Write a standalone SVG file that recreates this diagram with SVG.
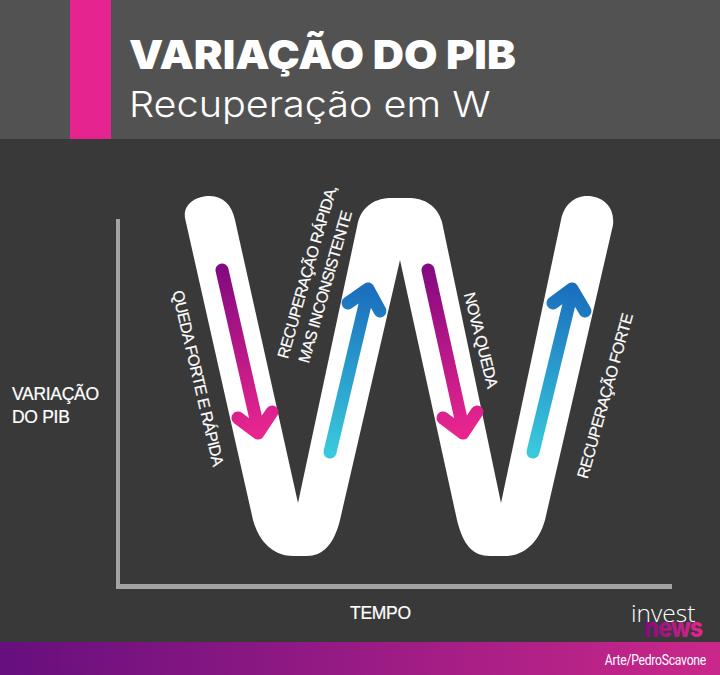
<svg xmlns="http://www.w3.org/2000/svg" width="720" height="675" viewBox="0 0 720 675">
<style>
.lab{font-family:"Liberation Sans",Arial,sans-serif;font-size:16px;fill:#fff;text-anchor:middle;dominant-baseline:central;letter-spacing:-.7px;stroke:#fff;stroke-width:.2px}
.axl{font-family:"Liberation Sans",Arial,sans-serif;font-size:17.5px;fill:#fff;letter-spacing:-.3px;stroke:#fff;stroke-width:.2px}
.arr{fill:none;stroke-width:13;stroke-linecap:round;stroke-linejoin:round}
</style>
<defs>
<linearGradient id="foot" x1="0" x2="1" y1="0" y2="0"><stop offset="0" stop-color="#660f7e"/><stop offset="1" stop-color="#cb278a"/></linearGradient>
<linearGradient id="p1" gradientUnits="userSpaceOnUse" x1="222" y1="270" x2="258" y2="433"><stop offset="0" stop-color="#840a80"/><stop offset="1" stop-color="#e8258f"/></linearGradient>
<linearGradient id="p2" gradientUnits="userSpaceOnUse" x1="428" y1="270" x2="463" y2="433"><stop offset="0" stop-color="#840a80"/><stop offset="1" stop-color="#e8258f"/></linearGradient>
<linearGradient id="b1" gradientUnits="userSpaceOnUse" x1="330" y1="452" x2="368" y2="289"><stop offset="0" stop-color="#38c9dc"/><stop offset="1" stop-color="#1b6fbe"/></linearGradient>
<linearGradient id="b2" gradientUnits="userSpaceOnUse" x1="533" y1="452" x2="572" y2="289"><stop offset="0" stop-color="#38c9dc"/><stop offset="1" stop-color="#1b6fbe"/></linearGradient>
<linearGradient id="nw" x1="0" x2="1" y1="0" y2="0"><stop offset="0" stop-color="#840a80"/><stop offset="1" stop-color="#e8258f"/></linearGradient>
</defs>
<rect width="720" height="675" fill="#393939"/>
<g id="header">
<rect width="720" height="139" fill="#525252"/>
<rect x="70" width="41" height="139" fill="#e6248f"/>
<text transform="translate(129 69) scale(1.08 1)" font-family="Inter,'Liberation Sans',sans-serif" font-weight="900" font-size="40" fill="#fff">VARIAÇÃO DO PIB</text>
<text transform="translate(129 117) scale(1.1 1)" font-family="Inter,'Liberation Sans',sans-serif" font-weight="300" font-size="36" fill="#fff">Recuperação em W</text>
</g>
<g id="axes">
<rect x="116" y="219" width="4" height="369" fill="#a3a3a3"/>
<rect x="116" y="584" width="556" height="5" fill="#a3a3a3"/>
<text class="axl" x="12" y="400">VARIAÇÃO</text>
<text class="axl" x="12" y="423">DO PIB</text>
<text class="axl" x="350" y="619">TEMPO</text>
</g>
<path id="w-shape" fill="#fff" d="M185 218C183 204 196 196 210 196C223 196 232 205 235 220L298 503L358 222C363 205 376 198 392 198H408C424 198 437 205 442 222L501 503L561 220C564 205 574 196 587 196C603 196 615 207 613 225L545 520C538 545 522 556 505 556H490C473 556 463 545 457 520L400 260L340 520C334 545 322 556 307 556H293C276 556 260 545 253 520Z"/>
<g id="connectors">
<path class="arr" stroke="url(#p1)" d="M222 270L258 428M238 418L258 433L272 412"/>
<path class="arr" stroke="url(#b1)" d="M330 452L368 292M348 303L368 289L380 311"/>
<path class="arr" stroke="url(#p2)" d="M428 270L463 428M443 418L463 433L477 412"/>
<path class="arr" stroke="url(#b2)" d="M533 452L572 292M553 303L572 289L585 311"/>
</g>
<g id="labels">
<text class="lab" transform="translate(198 378) rotate(76.8)">QUEDA FORTE E RÁPIDA</text>
<text class="lab" transform="translate(307 272) rotate(-74)">RECUPERAÇÃO RÁPIDA,</text>
<text class="lab" transform="translate(325 287) rotate(-74)">MAS INCONSISTENTE</text>
<text class="lab" transform="translate(481 340) rotate(76)">NOVA QUEDA</text>
<text class="lab" transform="translate(605 396) rotate(-74.5)">RECUPERAÇÃO FORTE</text>
</g>
<g id="logo">
<text x="631" y="622" font-family="'Open Sans',sans-serif" font-weight="300" font-size="24.5" fill="#fff">invest</text>
<text transform="translate(644 637) scale(.86 1)" font-family="Inter,sans-serif" font-weight="800" font-size="27" letter-spacing="-1" fill="url(#nw)">news</text>
</g>
<g id="footer">
<rect y="642" width="720" height="33" fill="url(#foot)"/>
<text transform="translate(706 665) scale(.87 1)" text-anchor="end" font-family="Roboto,sans-serif" font-size="14" letter-spacing="-.3" fill="#fff">Arte/PedroScavone</text>
</g>
</svg>
